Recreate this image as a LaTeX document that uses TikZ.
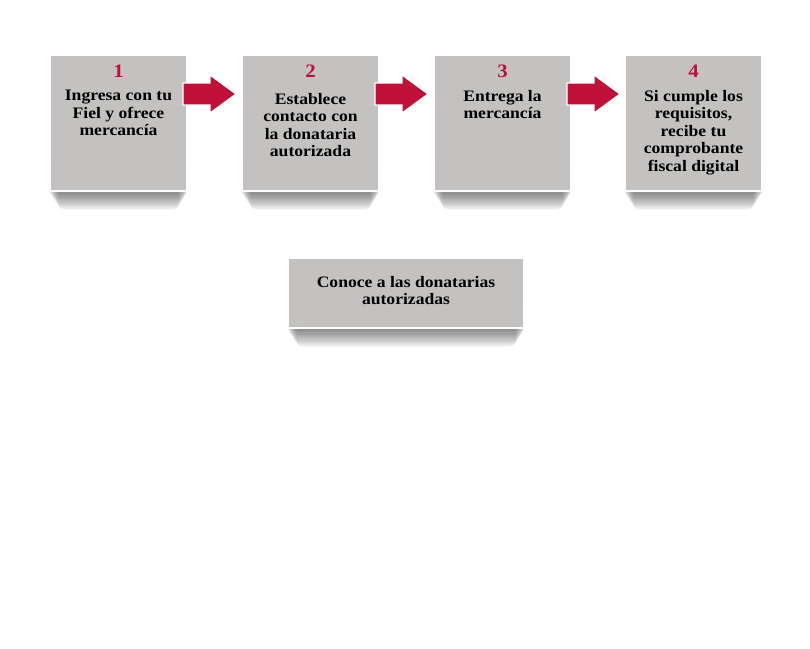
\documentclass[tikz,border=0pt]{standalone}
\usepackage{fontspec}
\setmainfont{Liberation Serif}[FakeStretch=1.1]
\usetikzlibrary{calc}
\pgfdeclarelayer{bg}
\pgfsetlayers{bg,main}
\definecolor{boxgray}{RGB}{195,194,193}
\definecolor{crimson}{RGB}{192,16,58}
\tikzset{
  stepbox/.style={fill=boxgray, draw=white, line width=2pt, minimum width=137pt, minimum height=136pt, anchor=north west, inner sep=0pt},
  widebox/.style={fill=boxgray, draw=white, line width=2pt, minimum width=236pt, minimum height=70pt, anchor=north west, inner sep=0pt},
  numlabel/.style={text=crimson, font=\fontsize{19}{20}\selectfont\bfseries, anchor=base, inner sep=0pt},
  steptext/.style={font=\fontsize{16}{17.5}\selectfont\bfseries, align=center, anchor=north, inner sep=0pt, text=black},
  blockarrow/.style={fill=crimson, draw=white, line width=1.2pt, line join=miter},
  shadowlayer/.style={fill=black, fill opacity=0.04, draw=none, rounded corners=5pt}
}
\newcommand{\boxshadow}[1]{%
  \begin{pgfonlayer}{bg}
  \foreach \i in {1,...,14}{
    \fill[shadowlayer] ($(#1.south west)+(-1+0.75*\i,-30)$) rectangle ($(#1.south east)+(1-0.75*\i,1+1.2*\i)$);
  }
  \end{pgfonlayer}}
\newcommand{\blockarr}[1]{%
  \fill[blockarrow] ($(#1.north east)+(-5,29)$) -- ($(#1.north east)+(22,29)$) -- ($(#1.north east)+(22,21)$)
    -- ($(#1.north east)+(48,40)$) -- ($(#1.north east)+(22,59)$) -- ($(#1.north east)+(22,51)$)
    -- ($(#1.north east)+(-5,51)$) -- cycle;}
\begin{document}
\begin{tikzpicture}[x=1pt,y=-1pt]
\useasboundingbox (0,0) rectangle (810,648);
% boxes
\node[stepbox] (b1) at (49,54) {};
\node[stepbox] (b2) at (241,54) {};
\node[stepbox] (b3) at (433,54) {};
\node[stepbox] (b4) at (624,54) {};
\node[widebox] (b5) at (287,257) {};
\boxshadow{b1}
\boxshadow{b2}
\boxshadow{b3}
\boxshadow{b4}
\boxshadow{b5}
% numbers
\node[numlabel] (n1) at ($(b1.north)+(0,23)$) {1};
\node[numlabel] (n2) at ($(b2.north)+(0,23)$) {2};
\node[numlabel] (n3) at ($(b3.north)+(0,23)$) {3};
\node[numlabel] (n4) at ($(b4.north)+(0,23)$) {4};
% texts
\node[steptext] (t1) at ($(b1.north)+(0,36)$) {Ingresa con tu\\Fiel y ofrece\\mercancía};
\node[steptext] (t2) at ($(b2.north)+(0,39)$) {Establece\\contacto con\\la donataria\\autorizada};
\node[steptext] (t3) at ($(b3.north)+(0,36)$) {Entrega la\\mercancía};
\node[steptext] (t4) at ($(b4.north)+(0,36)$) {Si cumple los\\requisitos,\\recibe tu\\comprobante\\fiscal digital};
\node[steptext] (t5) at ($(b5.north)+(0,19)$) {Conoce a las donatarias\\autorizadas};
% arrows
\blockarr{b1}
\blockarr{b2}
\blockarr{b3}
\end{tikzpicture}
\end{document}
